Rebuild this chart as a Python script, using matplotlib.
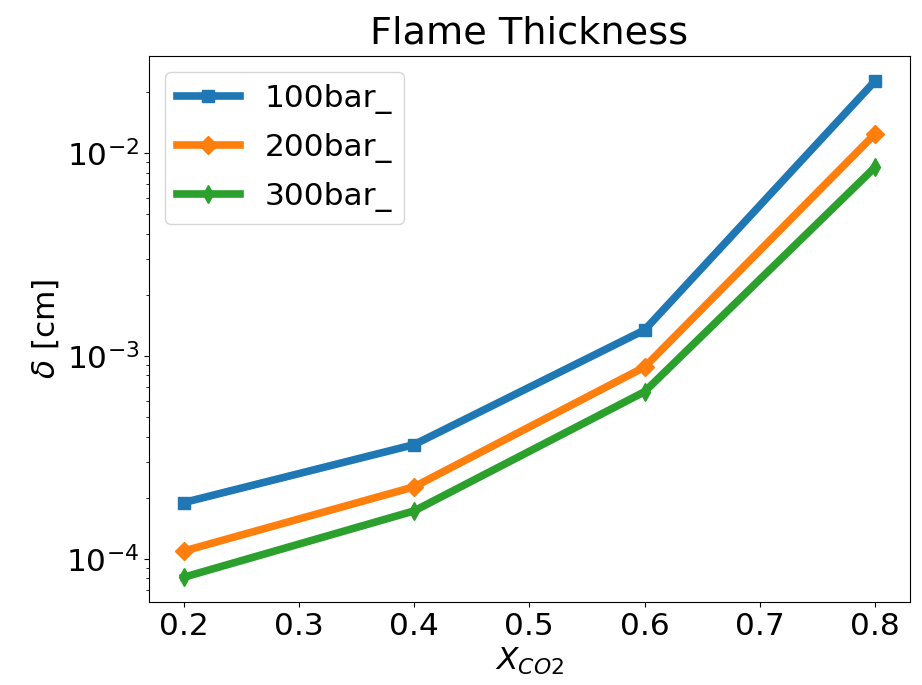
"""Flame thickness versus CO2 mole fraction at several pressures."""

from matplotlib import pyplot

# Data.
x_co2 = [0.2, 0.4, 0.6, 0.8]
delta_100bar = [1.89e-4, 3.65e-4, 1.34e-3, 2.26e-2]
delta_200bar = [1.09e-4, 2.26e-4, 8.8e-4, 1.24e-2]
delta_300bar = [8.1e-5, 1.72e-4, 6.65e-4, 8.5e-3]
labels = ['100bar_', '200bar_', '300bar_']

pyplot.rc('font', size=22.5)

fig = pyplot.figure(figsize=(9.22, 6.85), dpi=100)
ax = fig.add_axes([0.1616, 0.121, 0.825, 0.797])
ax.plot(x_co2, delta_100bar, marker='s', markersize=9, linewidth=5.5,
        label=labels[0])
ax.plot(x_co2, delta_200bar, marker='D', markersize=9, linewidth=5.5,
        label=labels[1])
ax.plot(x_co2, delta_300bar, marker='d', markersize=9, linewidth=5.5,
        label=labels[2])
ax.set_yscale('log')
ax.set_title('Flame Thickness', fontsize=27.5, pad=9)
ax.set_xlabel('$X_{CO2}$')
ax.set_ylabel(r'$\delta$ [cm]')
ax.legend(loc='upper left', labelspacing=0.6)

fig.savefig('out.png', dpi=100)
